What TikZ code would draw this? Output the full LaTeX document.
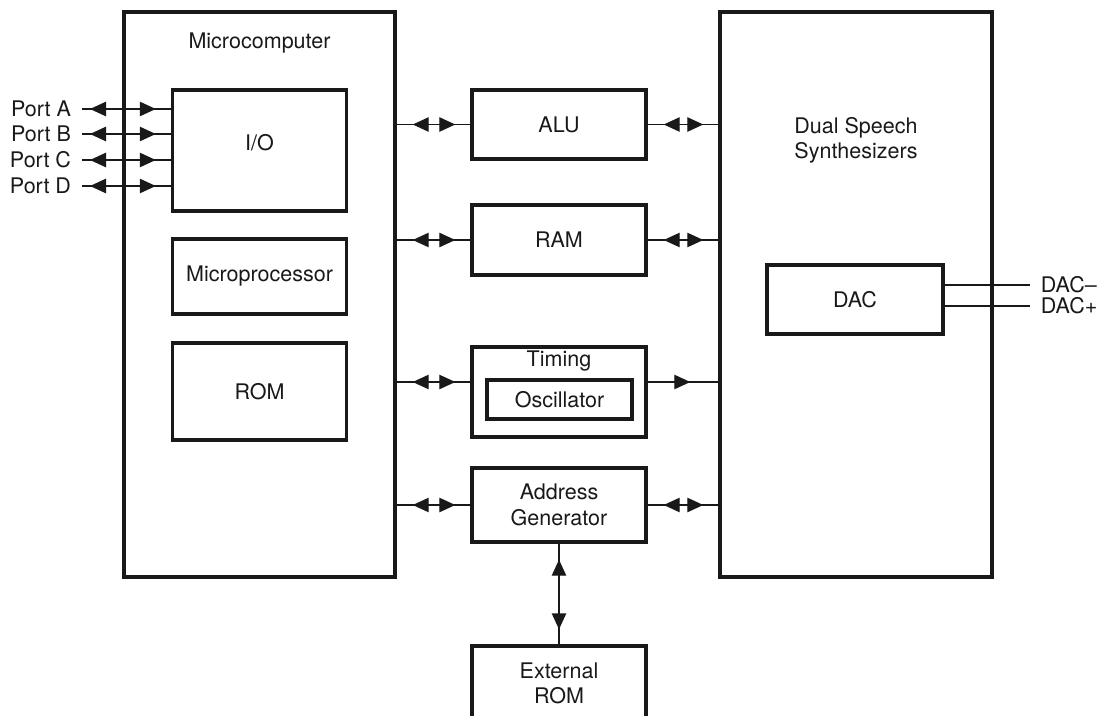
\documentclass[tikz,border=0pt]{standalone}
\usepackage{fontspec}
\setmainfont{TeX Gyre Heros}
\usepackage{tikz}
\usetikzlibrary{arrows.meta, positioning, calc, decorations.markings}

\begin{document}
\begin{tikzpicture}[
    x=0.025cm, y=-0.025cm,
    every node/.style={font=\fontsize{15.3}{18}\selectfont, text=black!90},
    block/.style={rectangle, draw=black!90, line width=2.4pt, minimum width=4.35cm, align=center, inner sep=0pt},
    bigblock/.style={rectangle, draw=black!90, line width=2.4pt, minimum width=6.8cm, minimum height=14.125cm},
    link/.style={draw=black!90, line width=1pt},
    fat/.tip={Triangle[length=0.4cm, width=0.36cm]},
    bidir/.style={link, postaction={decorate}, decoration={markings, mark=at position #1 with {\arrowreversed{fat}}, mark=at position -0.375cm with {\arrow{fat}}}},
    bidir/.default=0.4cm,
    unidir/.style={link, postaction={decorate}, decoration={markings, mark=at position -0.7cm with {\arrow{fat}}}}
]
    \useasboundingbox (0,0) rectangle (1102,715);
    \clip (0,0) rectangle (1102,715);

    % Outer chips
    \node[bigblock, minimum width=6.775cm] (mc) at (259.5, 294.5) {};
    \node (mctitle) at (259.5, 43) {Microcomputer};
    \node[bigblock] (dss) at (856, 294.5) {};
    \node[align=center] (dsstitle) at (856, 140) {Dual Speech\\Synthesizers};

    % Microcomputer blocks
    \node[block, minimum height=3.025cm] (io) at (259.5, 150.5) {};
    \node (iolbl) at (259.5, 143) {I/O};
    \node[block, minimum height=1.875cm] (mp) at (259.5, 276.5) {Microprocessor};
    \node[block, minimum height=2.425cm] (rom) at (259.5, 391.5) {ROM};

    % Shared blocks (middle column)
    \node[block, minimum height=1.725cm] (alu) at (559, 124.5) {ALU};
    \node[block, minimum height=1.75cm] (ram) at (559, 240) {RAM};
    \node[block, minimum height=2.25cm] (timing) at (559, 392) {};
    \node (timingtitle) at (559, 361) {Timing};
    \node[block, minimum width=3.625cm, minimum height=0.975cm] (osc) at (559.5, 399.5) {Oscillator};
    \node[block, minimum height=1.85cm] (addr) at (559, 505) {Address\\Generator};
    \node[block, minimum height=1.875cm] (extrom) at (559, 683.5) {External\\ROM};

    % DAC and its outputs
    \node[block, minimum width=4.4cm, minimum height=1.725cm] (dac) at (855, 299.5) {DAC};
    \coordinate (dacm) at (1030, 285);
    \coordinate (dacp) at (1030, 306);
    \node[anchor=west] (dacmlbl) at (1036, 285) {DAC--};
    \node[anchor=west] (dacplbl) at (1036, 306) {DAC+};
    \draw[link] (dac.east |- dacm) -- (dacm);
    \draw[link] (dac.east |- dacp) -- (dacp);

    % Ports
    \coordinate (pa) at (82, 109);
    \coordinate (pb) at (82, 134);
    \coordinate (pc) at (82, 160);
    \coordinate (pd) at (82, 186);
    \node[anchor=east] (palbl) at (76, 109) {Port A};
    \node[anchor=east] (pblbl) at (76, 134) {Port B};
    \node[anchor=east] (pclbl) at (76, 160) {Port C};
    \node[anchor=east] (pdlbl) at (76, 186) {Port D};
    \draw[bidir=0.2cm] (pa) -- (pa -| io.west);
    \draw[bidir=0.2cm] (pb) -- (pb -| io.west);
    \draw[bidir=0.2cm] (pc) -- (pc -| io.west);
    \draw[bidir=0.2cm] (pd) -- (pd -| io.west);

    % Buses between the chips
    \coordinate (tw) at ($(timing.west)+(0,-10)$);
    \coordinate (te) at ($(timing.east)+(0,-10)$);
    \draw[bidir] (alu.west -| mc.east) -- (alu.west);
    \draw[bidir] (ram.west -| mc.east) -- (ram.west);
    \draw[bidir] (tw -| mc.east) -- (tw);
    \draw[bidir] (addr.west -| mc.east) -- (addr.west);
    \draw[bidir] (alu.east) -- (alu.east -| dss.west);
    \draw[bidir] (ram.east) -- (ram.east -| dss.west);
    \draw[unidir] (te) -- (te -| dss.west);
    \draw[bidir] (addr.east) -- (addr.east -| dss.west);

    % External memory
    \draw[bidir] (addr.south) -- (extrom.north);
\end{tikzpicture}
\end{document}
